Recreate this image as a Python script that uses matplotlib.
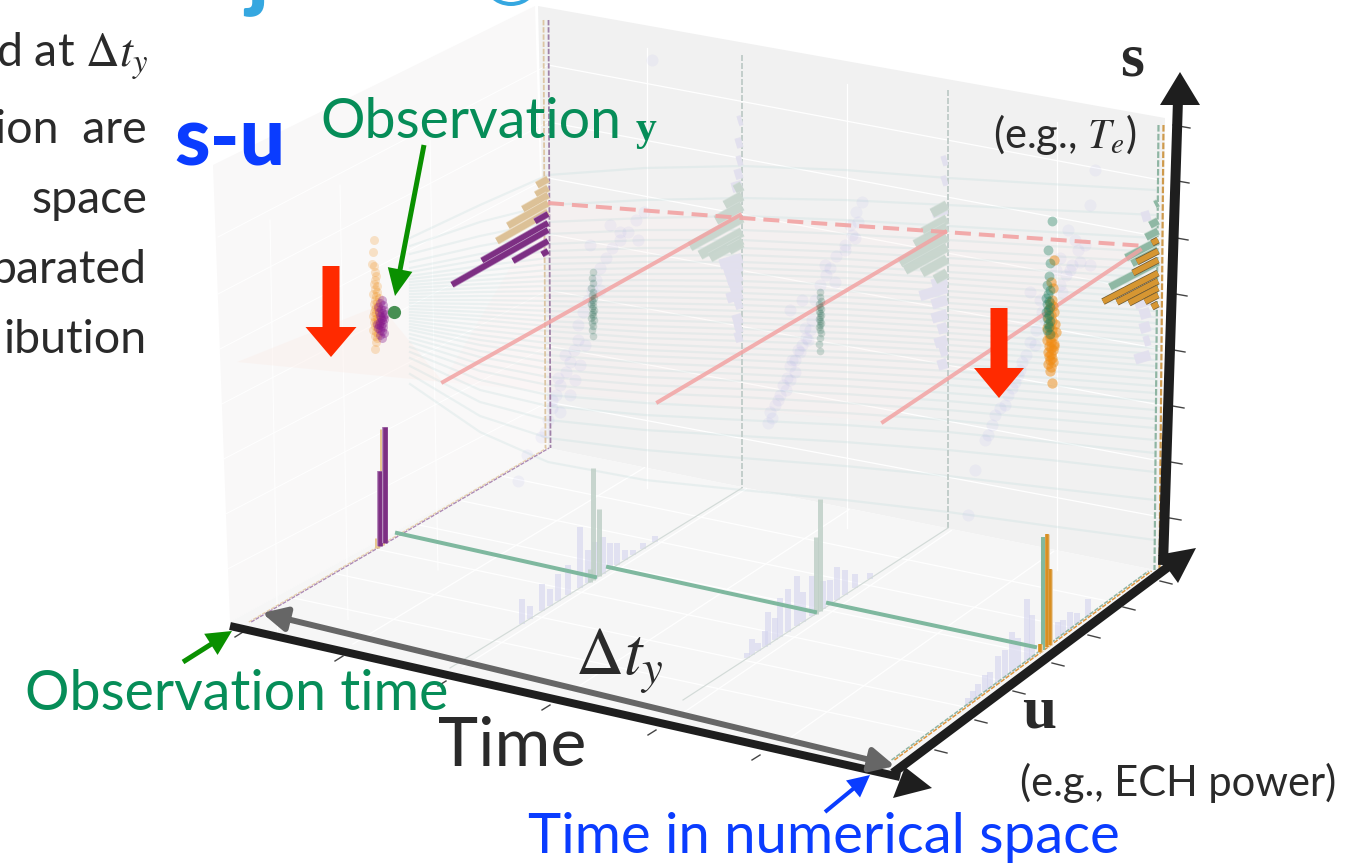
import numpy as np
import matplotlib
matplotlib.use('Agg')
import matplotlib.pyplot as plt
from matplotlib.patches import Polygon, Arc

W = 1357
H = 864
PT = 0.72   # one pixel in points at dpi 100

plt.rcParams['font.family'] = ['Lato', 'DejaVu Sans']
plt.rcParams['mathtext.fontset'] = 'stix'

# slices in time: front of floor, back of floor, top of wall
slice_front = [(250, 622), (450, 668), (683, 700), (893, 760)]
slice_back = [(548, 448), (742, 488), (948, 528), (1150, 571)]
slice_top = [(546, 20), (742, 55), (948, 90), (1161, 125)]

# faint trajectories, y at the x knots
stream_x = [410, 480, 548, 645, 742, 845, 948, 1050, 1155]
stream_y = [
    [238, 205, 175, 168, 166, 170, 178, 184, 190],
    [246, 222, 205, 200, 198, 200, 205, 210, 215],
    [254, 236, 222, 218, 216, 220, 226, 232, 238],
    [262, 246, 234, 230, 230, 234, 240, 246, 252],
    [268, 254, 244, 240, 240, 245, 250, 256, 262],
    [272, 260, 251, 248, 248, 252, 258, 264, 270],
    [276, 266, 258, 256, 255, 259, 265, 271, 278],
    [279, 271, 264, 262, 262, 266, 272, 278, 285],
    [282, 276, 270, 268, 268, 272, 278, 285, 292],
    [285, 280, 276, 274, 274, 278, 284, 291, 298],
    [288, 284, 281, 280, 281, 285, 291, 298, 305],
    [291, 288, 286, 286, 287, 291, 297, 304, 311],
    [294, 292, 291, 291, 293, 297, 303, 310, 317],
    [297, 296, 296, 297, 299, 303, 309, 316, 323],
    [300, 300, 301, 303, 305, 309, 315, 322, 329],
    [303, 304, 306, 308, 311, 315, 321, 328, 336],
    [306, 308, 311, 314, 317, 321, 327, 334, 342],
    [309, 312, 316, 320, 323, 327, 333, 340, 348],
    [312, 316, 321, 326, 329, 333, 339, 346, 354],
    [315, 320, 326, 332, 335, 339, 345, 352, 360],
    [318, 325, 331, 338, 341, 345, 351, 358, 366],
    [321, 330, 337, 344, 348, 352, 357, 364, 372],
    [324, 335, 343, 350, 354, 358, 364, 371, 379],
    [327, 340, 349, 356, 360, 365, 371, 378, 386],
    [330, 345, 355, 363, 367, 372, 378, 385, 393],
    [334, 351, 362, 370, 374, 379, 385, 393, 401],
    [338, 357, 369, 377, 381, 386, 393, 401, 410],
    [342, 364, 377, 385, 389, 394, 401, 410, 419],
    [347, 371, 385, 393, 397, 403, 410, 419, 428],
    [352, 380, 395, 403, 408, 413, 420, 430, 440],
    [358, 390, 406, 415, 420, 425, 432, 442, 453],
    [366, 402, 420, 430, 436, 442, 450, 460, 472],
    [374, 416, 438, 450, 458, 466, 476, 488, 500],
    [384, 432, 462, 480, 490, 500, 512, 526, 540],
]

# dots at each slice
lav1_x = [518, 527, 541, 548, 552, 556, 560, 566, 570, 574, 578, 578, 583, 588, 592, 596, 600, 606, 612, 620, 628, 636, 644, 652, 590, 610, 545, 560, 575, 565, 552, 585, 600, 620, 638, 580, 570, 558]
lav1_y = [481, 455, 437, 420, 408, 395, 385, 372, 362, 350, 340, 325, 312, 300, 290, 280, 268, 258, 248, 240, 232, 220, 212, 60, 245, 225, 432, 412, 380, 355, 400, 345, 290, 232, 240, 365, 395, 378]
lav2_x = [768, 770, 775, 780, 783, 787, 790, 795, 798, 802, 806, 810, 812, 802, 820, 826, 830, 836, 845, 852, 858, 862, 856, 850, 790, 808, 772, 778, 786, 795, 800, 815, 792, 825, 835, 845, 855, 790, 805]
lav2_y = [423, 412, 405, 395, 385, 378, 366, 360, 350, 345, 338, 330, 320, 300, 285, 275, 268, 256, 245, 235, 222, 202, 212, 225, 310, 340, 418, 400, 390, 372, 352, 300, 360, 265, 282, 250, 238, 380, 328]
lav3_x = [968, 975, 985, 992, 1000, 1008, 1015, 1020, 1026, 1030, 1036, 1042, 1030, 1060, 1066, 1072, 1080, 1085, 1075, 1090, 1095, 1060, 1068, 1090, 1005, 1012, 1022, 1035, 1045, 995, 1062, 1070, 1078, 988, 1018, 1040, 1056]
lav3_y = [515, 470, 440, 425, 408, 395, 382, 370, 355, 342, 330, 312, 292, 285, 275, 265, 262, 245, 240, 205, 170, 258, 230, 265, 405, 388, 362, 345, 320, 415, 292, 270, 250, 435, 375, 300, 270]

orange0_x = [374, 373, 372, 374, 375, 376, 375, 374, 377, 375, 377, 373, 376, 379, 375, 377, 374, 378, 376, 375, 378, 374, 376, 379, 373, 377, 375, 378, 374, 376, 379, 375, 377, 373, 376, 378, 375, 377, 376, 375]
orange0_y = [240, 252, 264, 266, 272, 276, 280, 284, 286, 289, 292, 294, 296, 298, 300, 302, 304, 306, 307, 309, 310, 312, 313, 315, 316, 318, 319, 320, 322, 323, 324, 326, 328, 330, 332, 334, 336, 338, 342, 349]
purple0_x = [382, 380, 383, 378, 381, 384, 379, 382, 385, 380, 383, 381, 384, 382, 380, 383, 377, 379, 381, 383, 378, 380, 382, 384, 380, 382]
purple0_y = [300, 303, 305, 307, 309, 310, 312, 313, 314, 316, 317, 318, 319, 320, 322, 323, 324, 325, 326, 327, 328, 330, 331, 333, 335, 338]
green1_x = [593, 592, 593, 591, 593, 592, 594, 592, 593, 591, 593, 592, 594, 593, 592, 593, 591, 594, 592, 593, 592, 593]
green1_y = [272, 278, 283, 288, 292, 295, 298, 300, 302, 304, 306, 308, 310, 312, 314, 316, 318, 320, 323, 326, 330, 336]
green2_x = [820, 820, 821, 819, 820, 821, 819, 820, 821, 820, 819, 820, 821, 820, 819, 820, 821, 820, 819, 820]
green2_y = [292, 297, 301, 304, 307, 309, 311, 313, 315, 317, 319, 321, 323, 325, 327, 330, 333, 338, 344, 351]
orange3_x = [1054, 1051, 1053, 1052, 1050, 1053, 1049, 1054, 1051, 1048, 1052, 1055, 1050, 1047, 1052, 1056, 1049, 1053, 1050, 1047, 1051, 1054, 1049, 1051, 1053, 1048, 1051, 1054, 1049, 1052, 1050, 1053, 1048, 1051, 1050, 1052]
orange3_y = [260, 282, 288, 300, 303, 306, 309, 312, 315, 318, 321, 324, 326, 328, 330, 332, 334, 336, 338, 340, 342, 344, 346, 348, 350, 352, 354, 346, 356, 358, 360, 362, 364, 367, 371, 383]
green3_x = [1052, 1048, 1050, 1049, 1047, 1050, 1048, 1046, 1049, 1047, 1050, 1048, 1046, 1049, 1047, 1050, 1048, 1049, 1047, 1050]
green3_y = [221, 250, 263, 276, 285, 290, 294, 298, 301, 304, 307, 310, 312, 315, 318, 321, 324, 327, 330, 334]

# histograms on the walls: y where a bar leaves the wall and its length
wall0_purple_y = [214, 223, 230, 241, 251]
wall0_purple_len = [13, 66, 96, 35, 6]
wall0_tan_y = [179, 188, 195, 203, 212]
wall0_tan_len = [11, 12, 25, 40, 51]
wall1_green_y = [186, 196, 206, 218, 232, 240, 243]
wall1_green_len = [7, 17, 26, 52, 42, 32, 13]
wall1_lav_y = [120, 142, 160, 173, 185, 258, 266, 276, 285, 294, 303, 318, 327, 336]
wall1_lav_len = [4, 6, 5, 7, 10, 22, 18, 15, 12, 15, 7, 9, 7, 7]
wall2_green_y = [205, 219, 227, 237, 247, 259, 273]
wall2_green_len = [15, 24, 32, 47, 42, 25, 12]
wall2_lav_y = [160, 180, 209, 280, 288, 300, 314, 327, 340, 350, 363]
wall2_lav_len = [5, 5, 15, 15, 27, 15, 15, 9, 12, 7, 9]
wall3_green_y = [203, 221, 231, 241, 250, 262]
wall3_green_len = [3, 8, 12, 32, 26, 48]
wall3_orange_y = [240, 251, 260, 273, 281, 288, 295, 304]
wall3_orange_len = [6, 21, 25, 55, 41, 29, 13, 6]
wall3_lav_y = [215, 300, 312, 326, 340, 355]
wall3_lav_len = [8, 15, 10, 10, 6, 15]

# histograms on the floor: x of the bar and its height
floor1_lav_x = [522, 530, 542, 550, 558, 568, 580, 588, 595, 603, 610, 617, 625, 633, 643, 655]
floor1_lav_h = [25, 13, 27, 17, 27, 30, 61, 33, 37, 37, 26, 22, 10, 5, 6, 6]
floor2_lav_x = [747, 752, 758, 765, 768, 775, 780, 788, 797, 803, 812, 823, 830, 837, 845, 855, 870]
floor2_lav_h = [5, 16, 8, 16, 33, 22, 39, 43, 50, 30, 40, 28, 25, 33, 25, 14, 6]
floor3_lav_x = [968, 973, 978, 985, 990, 998, 1005, 1012, 1018, 1027, 1032, 1058, 1063, 1070, 1077, 1088]
floor3_lav_h = [7, 10, 13, 17, 17, 27, 28, 40, 30, 62, 43, 17, 15, 18, 12, 18]
floor0_purple_x = [380, 385]
floor0_purple_h = [75, 116]
floor0_tan_x = [377, 382]
floor0_tan_h = [10, 116]
floor1_green_x = [590, 593, 599]
floor1_green_h = [13, 112, 67]
floor2_green_x = [816, 820]
floor2_green_h = [77, 112]
floor3_green_x = [1043]
floor3_green_h = [113]
floor3_orange_x = [1040, 1047, 1050]
floor3_orange_h = [8, 113, 76]

s_tick_y = [125, 180, 237, 293, 349, 405, 461, 517]
s_tick_x = [1173, 1172, 1171, 1170, 1168, 1167, 1165, 1164]
u_tick_x = [1160, 1123, 1088, 1052, 1013, 975, 935]
u_tick_y = [581, 607, 635, 663, 691, 720, 750]
time_tick_x = [235, 335, 438, 542, 648, 752]
time_tick_y = [637, 661, 686, 710, 735, 760]

left_grid_y = [65, 122, 178, 234, 290, 346, 402]
back_grid_x = [647, 847, 1057]
left_grid_x = [270, 340, 430]
floor_grid_u = [0.14, 0.28, 0.42, 0.56, 0.70, 0.84]
floor_grid_t = [0.16, 0.33, 0.5, 0.67, 0.84]


def lerp(a, b, f):
    return (a[0] + (b[0] - a[0]) * f, a[1] + (b[1] - a[1]) * f)


def wall_bars(x, ys, lens, slope, color, edge, lw, alpha=1, z=6):
    for y, l in zip(ys, lens):
        ax.plot([x, x - l], [y, y + slope * l], color=edge, lw=(lw + 1.5) * PT,
                solid_capstyle='butt', alpha=alpha, zorder=z)
        ax.plot([x, x - l], [y, y + slope * l], color=color, lw=lw * PT,
                solid_capstyle='butt', alpha=alpha, zorder=z)


def floor_bars(t, xs, hs, color, lw, alpha=1, z=6, edge=None):
    front = slice_front[t]
    back = slice_back[t]
    for x, h in zip(xs, hs):
        f = (x - front[0]) / (back[0] - front[0])
        y0 = front[1] + (back[1] - front[1]) * f
        if edge:
            ax.plot([x, x], [y0, y0 - h], color=edge, lw=(lw + 1.5) * PT,
                    solid_capstyle='butt', alpha=alpha, zorder=z)
        ax.plot([x, x], [y0, y0 - h], color=color, lw=lw * PT,
                solid_capstyle='butt', alpha=alpha, zorder=z)


def block_arrow(tail, tip, shaft, head_w, head_l, color, z=12):
    tail = np.array(tail, float)
    tip = np.array(tip, float)
    d = (tip - tail) / np.linalg.norm(tip - tail)
    n = np.array([-d[1], d[0]])
    neck = tip - d * head_l
    pts = [tail + n * shaft / 2, neck + n * shaft / 2, neck + n * head_w / 2, tip,
           neck - n * head_w / 2, neck - n * shaft / 2, tail - n * shaft / 2]
    ax.add_patch(Polygon(pts, closed=True, fc=color, ec='none', zorder=z))


def double_dash(p0, p1, c0, c1, lw, off=2.5, z=5):
    ax.plot([p0[0] - off, p1[0] - off], [p0[1], p1[1]], color=c0, lw=lw * PT, ls=(0, (3, 1)), zorder=z)
    ax.plot([p0[0] + off, p1[0] + off], [p0[1], p1[1]], color=c1, lw=lw * PT, ls=(0, (3, 1)), zorder=z)


fig = plt.figure(figsize=(W / 100, H / 100), dpi=100)
ax = fig.add_axes([0, 0, 1, 1])
ax.set_xlim(0, W)
ax.set_ylim(H, 0)
ax.axis('off')

# panes
ax.add_patch(Polygon([(213, 165), (535, 6), (548, 448), (230, 622)], fc='#f9f8f8', ec='none', zorder=1))
ax.add_patch(Polygon([(538, 6), (1165, 118), (1160, 571), (548, 448)], fc='#f1f1f1', ec='none', zorder=1))
ax.add_patch(Polygon([(230, 622), (548, 448), (1160, 571), (892, 778)], fc='#f6f6f6', ec='none', zorder=1))

# grid
for y in left_grid_y:
    ax.plot([548, 1160], [y, y + 115], color='white', lw=0.9, zorder=2)
    ax.plot([548, 218], [y, y + 172], color='white', lw=0.7, zorder=2)
for x in back_grid_x:
    ax.plot([x, x], [30 + (x - 548) * 0.18, 468 + (x - 548) * 0.2], color='white', lw=0.9, zorder=2)
for x in left_grid_x:
    ax.plot([x, x + 8], [140 + (430 - x) * 0.5, 570 + (430 - x) * 0.55], color='white', lw=0.7, zorder=2)
for u in floor_grid_u:
    p0 = lerp(slice_front[0], slice_back[0], u)
    p1 = lerp(slice_front[3], slice_back[3], u)
    ax.plot([p0[0], p1[0]], [p0[1], p1[1]], color='white', lw=0.9, zorder=2)
for t in floor_grid_t:
    p0 = lerp(slice_front[0], slice_front[3], t)
    p1 = lerp(slice_back[0], slice_back[3], t)
    ax.plot([p0[0], p1[0]], [p0[1], p1[1]], color='white', lw=0.9, zorder=2)

# pale planes of the observation
ax.add_patch(Polygon([(237, 362), (380, 305), (443, 382)], fc='#fbeeea', ec='none', alpha=0.45, zorder=2))
ax.add_patch(Polygon([(548, 203), (1145, 246), (883, 422), (443, 382)], fc='#fdf0ee', ec='none', alpha=0.25, zorder=2))

# trajectories
for row in stream_y:
    ax.plot(stream_x, row, color='#b5d6d6', lw=1.6, alpha=0.22, zorder=3)

# slice lines
double_dash(slice_top[0], slice_back[0], '#dcc6a4', '#a081a8', 1.8)
double_dash(slice_front[0], slice_back[0], '#e8d2ae', '#ab88b4', 1.3, off=1.2)
for t in [1, 2]:
    ax.plot([slice_top[t][0], slice_back[t][0]], [slice_top[t][1], slice_back[t][1]],
            color='#c3cecb', lw=2 * PT, ls=(0, (3, 1)), zorder=5)
    ax.plot([slice_front[t][0], slice_back[t][0]], [slice_front[t][1], slice_back[t][1]],
            color='#d3dbd8', lw=1.2 * PT, zorder=5)
double_dash(slice_top[3], (1157, 570), '#8fb5a3', '#cf9a4c', 2.2)
double_dash(slice_front[3], slice_back[3], '#8fb5a3', '#dd9640', 1.5, off=1.5)

# lavender clouds
for xs, ys in [(lav1_x, lav1_y), (lav2_x, lav2_y), (lav3_x, lav3_y)]:
    ax.scatter(xs, ys, s=75, color='#8a8ae6', alpha=0.075, linewidths=0, zorder=4)

# wall histograms
wall_bars(742, wall1_lav_y, wall1_lav_len, 0.3, '#e2e0ee', '#e2e0ee', 9, alpha=0.8, z=5)
wall_bars(947, wall2_lav_y, wall2_lav_len, 0.3, '#e2e0ee', '#e2e0ee', 9, alpha=0.8, z=5)
wall_bars(1150, wall3_lav_y, wall3_lav_len, 0.3, '#e2e0ee', '#e2e0ee', 9, alpha=0.8, z=5)
wall_bars(742, wall1_green_y, wall1_green_len, 0.55, '#c5d3cb', '#d5e0da', 9, alpha=0.8)
wall_bars(947, wall2_green_y, wall2_green_len, 0.55, '#c5d3cb', '#d5e0da', 9, alpha=0.8)
wall_bars(548, wall0_tan_y, wall0_tan_len, 0.57, '#dcc197', '#ecdcc2', 6.5)
wall_bars(548, wall0_purple_y, wall0_purple_len, 0.57, '#7d2f83', '#b58bbb', 5.5)
wall_bars(1158, wall3_green_y, wall3_green_len, 0.52, '#8fb8a4', '#c9dcd2', 7)
wall_bars(1158, wall3_orange_y, wall3_orange_len, 0.52, '#d69632', '#6e5a35', 5.5)

# floor histograms
floor_bars(1, floor1_lav_x, floor1_lav_h, '#d4d4ee', 6, alpha=0.6, z=4)
floor_bars(2, floor2_lav_x, floor2_lav_h, '#d4d4ee', 6, alpha=0.6, z=4)
floor_bars(3, floor3_lav_x, floor3_lav_h, '#d4d4ee', 6, alpha=0.6, z=4)
floor_bars(0, floor0_tan_x, floor0_tan_h, '#e6c690', 5, z=6)
floor_bars(0, floor0_purple_x, floor0_purple_h, '#7d2f83', 4.5, z=6, edge='#b58bbb')
floor_bars(1, floor1_green_x, floor1_green_h, '#bfd0c7', 5, alpha=0.85)
floor_bars(2, floor2_green_x, floor2_green_h, '#bfd0c7', 5, alpha=0.85)
floor_bars(3, floor3_green_x, floor3_green_h, '#83b89d', 4)
floor_bars(3, floor3_orange_x, floor3_orange_h, '#d88f22', 3.5, edge='#e9cfa8', z=7)

# observation lines
ax.plot([443, 740], [382, 215], color='#f2a3a3', lw=4 * PT, alpha=0.85, zorder=7)
ax.plot([658, 945], [402, 232], color='#f2a3a3', lw=4 * PT, alpha=0.85, zorder=7)
ax.plot([883, 1140], [422, 250], color='#f2a3a3', lw=4 * PT, alpha=0.85, zorder=7)
ax.plot([548, 742, 945, 1145], [203, 218, 232, 246], color='#f2a3a3', lw=4 * PT,
        ls=(0, (4, 2)), alpha=0.9, zorder=7)
ax.plot([397, 595], [533, 577], color='#7fb89f', lw=4 * PT, zorder=7)
ax.plot([608, 815], [567, 612], color='#7fb89f', lw=4 * PT, zorder=7)
ax.plot([828, 1035], [603, 647], color='#7fb89f', lw=4 * PT, zorder=7)

# clusters
ax.scatter(orange0_x, orange0_y, s=42, color='#f08c14', alpha=0.22, linewidths=0, zorder=8)
ax.scatter(purple0_x, purple0_y, s=42, color='#86168c', alpha=0.35, linewidths=0, zorder=9)
ax.scatter(green1_x, green1_y, s=30, color='#2d6f58', alpha=0.22, linewidths=0, zorder=8)
ax.scatter(green2_x, green2_y, s=30, color='#2d6f58', alpha=0.22, linewidths=0, zorder=8)
ax.scatter(orange3_x, orange3_y, s=55, color='#f08c14', alpha=0.5, linewidths=0, zorder=8)
ax.scatter(green3_x, green3_y, s=50, color='#1f8060', alpha=0.38, linewidths=0, zorder=9)
ax.scatter([394], [312], s=90, color='#3d8a4a', alpha=0.95, linewidths=0, zorder=10)

# red arrows
block_arrow((331, 266), (331, 357), 17, 51, 30, '#ff2a00')
block_arrow((999, 308), (999, 398), 17, 50, 30, '#ff2a00')

# axes
for x, y in zip(s_tick_x, s_tick_y):
    ax.plot([x, x + 17], [y, y + 3], color='#444444', lw=1, zorder=9)
for x, y in zip(u_tick_x, u_tick_y):
    ax.plot([x, x + 12], [y, y + 3], color='#444444', lw=1, zorder=9)
for x, y in zip(time_tick_x, time_tick_y):
    ax.plot([x, x + 8], [y, y - 5], color='#444444', lw=1, zorder=9)
ax.plot([230, 900], [626, 777], color='#1e1e1e', lw=8 * PT, solid_capstyle='butt', zorder=11)
ax.add_patch(Polygon([(893, 798), (932, 788), (905, 767)], fc='#1e1e1e', ec='none', zorder=11))
ax.plot([893, 1172], [773, 564], color='#1e1e1e', lw=9 * PT, solid_capstyle='butt', zorder=11)
ax.add_patch(Polygon([(1196, 548), (1158, 555), (1178, 583)], fc='#1e1e1e', ec='none', zorder=11))
ax.plot([1163, 1178], [565, 100], color='#1e1e1e', lw=10 * PT, solid_capstyle='butt', zorder=11)
ax.add_patch(Polygon([(1180, 72), (1160, 105), (1200, 105)], fc='#1e1e1e', ec='none', zorder=11))

# span of the assimilation window
ax.annotate('', xy=(262, 613), xytext=(895, 766), zorder=12,
            arrowprops=dict(arrowstyle='<|-|>', color='#666666', lw=6 * PT, mutation_scale=36,
                            shrinkA=0, shrinkB=0))

# pointers
block_arrow((424, 145), (395, 296), 5, 25, 27, '#0a9000')
block_arrow((183, 662), (232, 631), 5, 25, 25, '#0a9000')
block_arrow((825, 812), (870, 775), 4, 22, 22, '#0a3cff')

# texts
dark = '#2a2a2a'
green = '#068d58'
ax.text(148, 67, r'd at $\Delta t_y$', ha='right', va='baseline', fontsize=33.5, color=dark, zorder=20)
ax.text(147, 143, 'ion  are', ha='right', va='baseline', fontsize=33.5, color=dark, zorder=20)
ax.text(147, 213, 'space', ha='right', va='baseline', fontsize=33.5, color=dark, zorder=20)
ax.text(147, 283, 'parated', ha='right', va='baseline', fontsize=33.5, color=dark, zorder=20)
ax.text(147, 353, 'ibution', ha='right', va='baseline', fontsize=33.5, color=dark, zorder=20)

ax.text(174, 166, 's-u', ha='left', va='baseline', fontsize=58, color='#0a3cff', fontweight='black', zorder=20)
ax.text(320, 138, 'Observation', ha='left', va='baseline', fontsize=40, color=green, zorder=20)
ax.text(636, 140, 'y', ha='left', va='baseline', fontsize=30, color=green, family='Liberation Serif',
        fontweight='bold', zorder=20)
ax.text(25, 710, 'Observation time', ha='left', va='baseline', fontsize=40, color=green, zorder=20)
ax.text(438, 766, 'Time', ha='left', va='baseline', fontsize=49, color=dark, zorder=20)
ax.text(575, 675, r'$\Delta t_y$', ha='left', va='baseline', fontsize=48, color=dark, zorder=20)
ax.text(528, 853, 'Time in numerical space', ha='left', va='baseline', fontsize=40.5, color='#0a3cff', zorder=20)
ax.text(1020, 796, '(e.g., ECH power)', ha='left', va='baseline', fontsize=30, color=dark, zorder=20)
ax.text(993, 148, r'(e.g., $T_e$)', ha='left', va='baseline', fontsize=30, color=dark, zorder=20)
ax.text(1120, 75, 's', ha='left', va='baseline', fontsize=44, color=dark, family='Liberation Serif',
        fontweight='bold', zorder=20)
ax.text(1022, 728, 'u', ha='left', va='baseline', fontsize=44, color=dark, family='Liberation Serif',
        fontweight='bold', zorder=20)

# bits of the heading, cut by the top of the picture
ax.text(246, 0, 'j', ha='left', va='baseline', fontsize=62, color='#35a7e0', fontweight='black', zorder=20)
ax.add_patch(Arc((511, -24), 56, 56, color='#35a7e0', lw=4 * PT, zorder=20))

fig.savefig('out.png', dpi=100)
